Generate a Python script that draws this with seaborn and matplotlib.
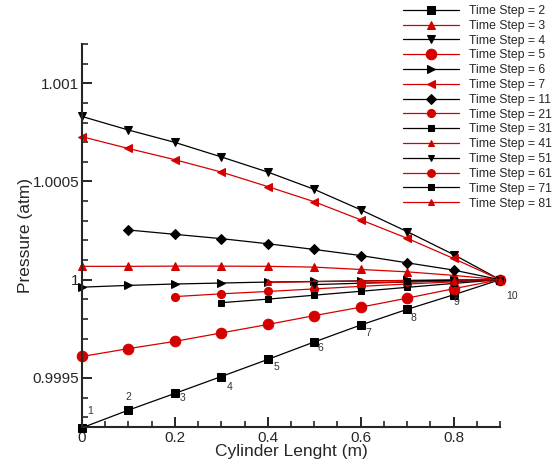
import numpy as np
import pandas as pd
import seaborn as sns
import matplotlib.pyplot as plt
from matplotlib.ticker import MultipleLocator, FormatStrFormatter

# positions along the cylinder (m)
x_vals = [0.0, 0.1, 0.2, 0.3, 0.4, 0.5, 0.6, 0.7, 0.8, 0.9]

# pressure (atm) per time step, series start at the first listed x position
ts2 = [0.999246, 0.999336, 0.999421, 0.999507, 0.999594, 0.999683, 0.999769, 0.999849, 0.999923, 1.0]
ts3 = [1.000068, 1.000068, 1.000069, 1.000069, 1.000068, 1.000064, 1.000052, 1.000040, 1.000022, 1.0]
ts4 = [1.000831, 1.000762, 1.000699, 1.000625, 1.000548, 1.000460, 1.000356, 1.000245, 1.000128, 1.0]
ts5 = [0.999609, 0.999649, 0.999686, 0.999729, 0.999772, 0.999817, 0.999860, 0.999906, 0.999954, 1.0]
ts6 = [0.999962, 0.999971, 0.999978, 0.999983, 0.999988, 0.999991, 0.999994, 0.999996, 0.999998, 1.0]
ts7 = [1.000728, 1.000668, 1.000611, 1.000548, 1.000474, 1.000397, 1.000305, 1.000211, 1.000108, 1.0]
ts11 = [1.000253, 1.000231, 1.000209, 1.000183, 1.000154, 1.000123, 1.000086, 1.000049, 1.0]
ts21 = [0.999914, 0.999928, 0.999940, 0.999953, 0.999966, 0.999978, 0.999989, 1.0]
ts31 = [0.999883, 0.999901, 0.999921, 0.999941, 0.999961, 0.999981, 1.0]
ts41 = [0.999986, 0.999990, 0.999993, 0.999996, 0.999998, 1.0]
ts51 = [0.999975, 0.999982, 0.999988, 0.999994, 1.0]
ts61 = [0.999983, 0.999989, 0.999995, 1.0]
ts71 = [0.999994, 0.999997, 1.0]
ts81 = [0.999998, 1.0]

steps = [2, 3, 4, 5, 6, 7, 11, 21, 31, 41, 51, 61, 71, 81]
series = [ts2, ts3, ts4, ts5, ts6, ts7, ts11, ts21, ts31, ts41, ts51, ts61, ts71, ts81]
point_labels = ['1', '2', '3', '4', '5', '6', '7', '8', '9', '10']

rows = []
for step, vals in zip(steps, series):
    xs = x_vals[len(x_vals) - len(vals):]
    for xv, yv in zip(xs, vals):
        rows.append({'step': step, 'x': xv, 'p': yv})
df = pd.DataFrame(rows)

# styles
RED = '#d40000'
BLK = '#000000'
styles = {
    2: (BLK, 's', 5.8), 3: (RED, '^', 5.8), 4: (BLK, 'v', 6.2), 5: (RED, 'o', 7.6),
    6: (BLK, '>', 6.0), 7: (RED, '<', 6.0), 11: (BLK, 'D', 5.4), 21: (RED, 'o', 5.8),
    31: (BLK, 's', 4.0), 41: (RED, '^', 4.4), 51: (BLK, 'v', 4.4), 61: (RED, 'o', 5.6),
    71: (BLK, 's', 4.2), 81: (RED, '^', 4.4),
}
label_offsets = [(8, 17), (0, 13), (8, -5), (8, -10), (9, -8),
                 (6, -6), (8, -8), (6, -9), (3, -7), (12, -16)]

sns.set_style('ticks')
plt.rcParams['font.family'] = ['Liberation Sans', 'DejaVu Sans']
plt.rcParams['xtick.direction'] = 'in'
plt.rcParams['ytick.direction'] = 'in'

fig = plt.figure(figsize=(5.54, 4.65), dpi=100)
ax = fig.add_axes([82 / 554, 1 - 427 / 465, 418 / 554, 383 / 465])

for step in steps:
    color, marker, ms = styles[step]
    sub = df[df['step'] == step]
    sns.lineplot(data=sub, x='x', y='p', ax=ax, color=color, marker=marker,
                 markersize=ms, markeredgecolor=color, linewidth=0.9,
                 label=f'Time Step = {step}', clip_on=False, estimator=None, sort=False)

# point numbering along time step 2
for xv, yv, lab, off in zip(x_vals, ts2, point_labels, label_offsets):
    ax.annotate(lab, (xv, yv), xytext=off, textcoords='offset pixels',
                ha='center', va='center', fontsize=7.5, color='#333333',
                annotation_clip=False)

ax.set_xlim(0, 0.9)
ax.set_ylim(0.99925, 1.0012)
ax.xaxis.set_major_locator(MultipleLocator(0.2))
ax.xaxis.set_minor_locator(MultipleLocator(0.05))
ax.yaxis.set_major_locator(MultipleLocator(0.0005))
ax.yaxis.set_minor_locator(MultipleLocator(0.0001))
ax.xaxis.set_major_formatter(FormatStrFormatter('%g'))
ax.yaxis.set_major_formatter(FormatStrFormatter('%g'))
ax.tick_params(which='major', length=7.5, width=1.4, labelsize=11, pad=3)
ax.tick_params(which='minor', length=4.5, width=1.2)
ax.tick_params(axis='y', which='major', pad=2)

sns.despine(ax=ax)
for side in ['left', 'bottom']:
    ax.spines[side].set_linewidth(1.5)

ax.set_xlabel('Cylinder Lenght (m)', fontsize=12.5)
ax.set_ylabel('Pressure (atm)', fontsize=12.5)
ax.xaxis.set_label_coords(0.5, -0.045)
ax.yaxis.set_label_coords(-0.117, 0.5)

ax.legend(loc='upper left', bbox_to_anchor=(403 / 554, 1 - 5 / 465),
          bbox_transform=fig.transFigure, frameon=False, fontsize=8.8,
          handlelength=4.6, handletextpad=0.8, labelspacing=0.23,
          borderpad=0, borderaxespad=0)

plt.savefig('out.png', dpi=100)
plt.close()
